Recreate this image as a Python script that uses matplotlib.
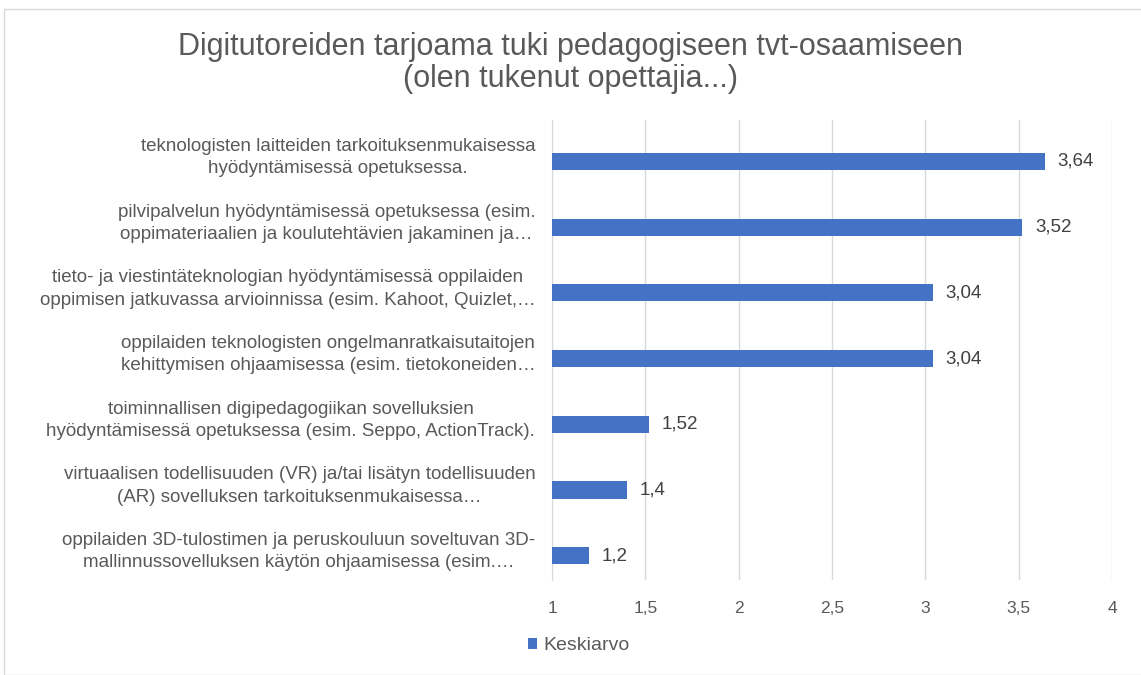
import numpy as np
from matplotlib import pyplot as plt
from matplotlib.patches import Rectangle

categories = [
    "teknologisten laitteiden tarkoituksenmukaisessa\nhyödyntämisessä opetuksessa.",
    "pilvipalvelun hyödyntämisessä opetuksessa (esim.\noppimateriaalien ja koulutehtävien jakaminen ja…",
    "tieto- ja viestintäteknologian hyödyntämisessä oppilaiden\noppimisen jatkuvassa arvioinnissa (esim. Kahoot, Quizlet,…",
    "oppilaiden teknologisten ongelmanratkaisutaitojen\nkehittymisen ohjaamisessa (esim. tietokoneiden…",
    "toiminnallisen digipedagogiikan sovelluksien\nhyödyntämisessä opetuksessa (esim. Seppo, ActionTrack).",
    "virtuaalisen todellisuuden (VR) ja/tai lisätyn todellisuuden\n(AR) sovelluksen tarkoituksenmukaisessa…",
    "oppilaiden 3D-tulostimen ja peruskouluun soveltuvan 3D-\nmallinnussovelluksen käytön ohjaamisessa (esim.…",
]
values = [3.64, 3.52, 3.04, 3.04, 1.52, 1.4, 1.2]
value_labels = ["3,64", "3,52", "3,04", "3,04", "1,52", "1,4", "1,2"]
xticks = [1, 1.5, 2, 2.5, 3, 3.5, 4]
xtick_labels = ["1", "1,5", "2", "2,5", "3", "3,5", "4"]

plt.rcParams["font.family"] = ["Liberation Sans", "DejaVu Sans"]
text_color = "#595959"
bar_color = "#4472C4"

fig = plt.figure(figsize=(11.41, 6.75), dpi=100)
ax = fig.add_axes([0.4838, 0.1407, 0.9746 - 0.4838, 0.8222 - 0.1407])

# bars sit a little below the category centre, as in the source chart
y = np.arange(len(categories))
bar_y = y + 0.13
ax.barh(bar_y, np.array(values) - 1, left=1, height=0.26, color=bar_color, label="Keskiarvo", zorder=3)

for yi, v, lab in zip(bar_y, values, value_labels):
    ax.annotate(lab, (v, yi), xytext=(9, 0), textcoords="offset points",
                va="center", ha="left", fontsize=13.5, color="#404040")

ax.set_xlim(1, 4)
ax.set_ylim(len(categories) - 0.5, -0.5)
ax.set_xticks(xticks)
ax.set_xticklabels(xtick_labels, color=text_color, fontsize=12.5)
ax.set_yticks(y)
ax.set_yticklabels(categories, color=text_color, fontsize=13.5)
for t in ax.get_yticklabels():
    t.set_multialignment("center")
    t.set_linespacing(1.4)
ax.tick_params(axis="both", length=0)
ax.tick_params(axis="y", pad=12)
ax.tick_params(axis="x", pad=15)

ax.grid(axis="x", color="#d9d9d9", linewidth=1, zorder=0)
for s in ["top", "right", "bottom"]:
    ax.spines[s].set_visible(False)
ax.spines["left"].set_color("#d9d9d9")

fig.suptitle("Digitutoreiden tarjoama tuki pedagogiseen tvt-osaamiseen\n(olen tukenut opettajia...)",
             y=0.907, va="center", fontsize=22, color=text_color, linespacing=1.1)

leg = fig.legend(loc="center", bbox_to_anchor=(0.507, 0.043), frameon=False,
                 fontsize=14, handlelength=0.5, handleheight=0.5, handletextpad=0.3)
for t in leg.get_texts():
    t.set_color(text_color)

fig.patches.append(Rectangle((0.0035, 0.0), 1.0, 0.986, transform=fig.transFigure,
                             fill=False, edgecolor="#d9d9d9", linewidth=1))

fig.savefig("out.png", dpi=100)
